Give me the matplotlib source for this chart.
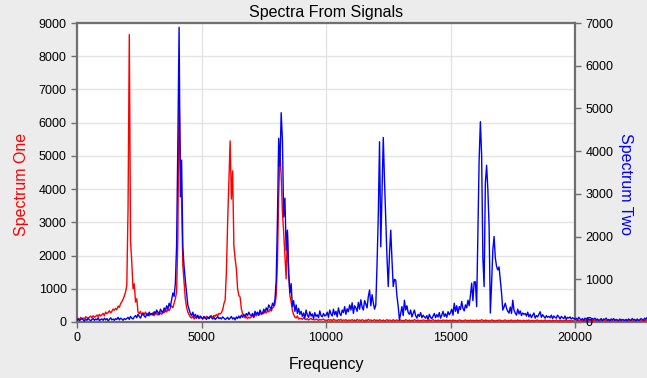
import numpy as np
import matplotlib
matplotlib.use("Agg")
import matplotlib.pyplot as plt

plt.rcParams['font.family'] = ['Liberation Sans', 'DejaVu Sans']

# Частотні біни (крок 50 Гц)
FREQ = np.arange(0, 23000, 50)

# Спектр 1 (ліва вісь), по 20 значень на кожні 1000 Гц
SPECTRUM_ONE = [
    80, 110, 70, 140, 100, 120, 90, 160, 130, 110, 150, 180, 120, 190, 140, 170, 210, 160, 230, 180,
    220, 260, 190, 300, 250, 290, 340, 270, 320, 390, 350, 410, 370, 480, 440, 550, 610, 680, 780, 900,
    1100, 3400, 8650, 2450, 1800, 1000, 1150, 600, 700, 300, 250, 320, 200, 280, 230, 300, 200, 260, 180, 250,
    220, 280, 190, 300, 240, 210, 310, 260, 230, 330, 280, 350, 300, 380, 340, 420, 480, 430, 560, 700,
    900, 2500, 6900, 4900, 3700, 1700, 1200, 700, 450, 300, 220, 150, 120, 180, 90, 140, 110, 160, 100, 130,
    120, 90, 150, 110, 170, 130, 100, 160, 190, 140, 200, 170, 230, 190, 260, 240, 280, 360, 550, 660,
    1500, 3000, 4200, 5450, 3700, 4550, 2300, 1900, 1600, 1000, 800, 750, 400, 250, 180, 120, 160, 100, 150, 120,
    150, 200, 130, 230, 180, 260, 200, 280, 220, 300, 250, 320, 270, 350, 300, 380, 330, 420, 460, 520,
    800, 1800, 3800, 5100, 4400, 3300, 2700, 2000, 1300, 2700, 1500, 800, 600, 350, 220, 150, 120, 180, 90, 110,
    110, 80, 130, 90, 70, 100, 60, 90, 110, 70, 80, 60, 90, 70, 50, 80, 60, 70, 90, 50,
    60, 40, 80, 50, 70, 30, 90, 50, 60, 40, 70, 50, 80, 40, 60, 50, 70, 30, 60, 50,
    50, 70, 40, 60, 30, 80, 50, 60, 40, 70, 50, 30, 60, 40, 80, 50, 60, 40, 50, 70,
    40, 60, 30, 70, 50, 40, 60, 30, 50, 70, 40, 60, 50, 30, 70, 40, 50, 60, 40, 50,
    60, 40, 50, 30, 70, 50, 40, 60, 30, 50, 40, 70, 50, 40, 60, 30, 50, 40, 60, 50,
    40, 50, 30, 60, 40, 50, 70, 40, 50, 30, 60, 40, 50, 30, 60, 50, 40, 60, 30, 50,
    50, 30, 60, 40, 50, 30, 40, 60, 50, 40, 30, 50, 60, 40, 50, 30, 60, 40, 50, 40,
    40, 60, 30, 50, 40, 70, 50, 30, 60, 40, 50, 30, 40, 60, 50, 40, 30, 50, 40, 60,
    50, 40, 30, 50, 60, 40, 30, 50, 40, 60, 30, 40, 50, 30, 60, 40, 50, 30, 40, 50,
    30, 50, 40, 60, 30, 40, 50, 30, 40, 50, 60, 30, 40, 50, 30, 40, 60, 40, 30, 50,
    40, 30, 50, 40, 30, 60, 40, 30, 50, 40, 30, 50, 40, 60, 30, 40, 50, 30, 40, 30,
    40, 30, 50, 30, 40, 50, 30, 40, 30, 50, 40, 30, 50, 40, 30, 40, 50, 30, 40, 30,
    30, 40, 30, 50, 40, 30, 40, 30, 50, 30, 40, 30, 40, 50, 30, 40, 30, 40, 30, 40,
    40, 30, 40, 30, 50, 40, 30, 40, 30, 40, 50, 30, 40, 30, 40, 30, 50, 40, 30, 40,
]

# Спектр 2 (права вісь)
SPECTRUM_TWO = [
    40, 70, 30, 60, 80, 50, 20, 70, 40, 90, 50, 30, 60, 80, 40, 70, 50, 100, 30, 60,
    70, 40, 90, 50, 80, 30, 60, 100, 50, 70, 40, 80, 60, 110, 50, 90, 70, 40, 80, 60,
    80, 110, 60, 130, 90, 70, 120, 150, 100, 180, 130, 90, 160, 200, 140, 110, 190, 150, 230, 170,
    200, 160, 240, 190, 280, 220, 170, 300, 250, 210, 330, 260, 380, 300, 440, 360, 520, 680, 600, 900,
    1800, 4200, 6900, 2930, 3790, 1760, 1300, 980, 700, 400, 300, 200, 150, 230, 120, 180, 100, 160, 90, 140,
    110, 70, 130, 90, 60, 120, 80, 140, 100, 70, 110, 60, 90, 130, 80, 100, 70, 120, 90, 60,
    80, 110, 60, 90, 130, 70, 100, 50, 120, 80, 140, 90, 160, 110, 180, 130, 200, 150, 230, 170,
    140, 200, 120, 250, 180, 230, 160, 280, 210, 190, 300, 240, 330, 270, 400, 350, 300, 440, 380, 520,
    980, 2400, 4300, 3650, 4900, 4250, 2460, 2900, 1680, 2150, 1150, 680, 900, 360, 500, 250, 400, 200, 320, 180,
    250, 130, 210, 90, 280, 160, 110, 240, 140, 190, 80, 220, 130, 170, 100, 260, 150, 120, 200, 140,
    160, 230, 110, 280, 190, 140, 300, 170, 250, 120, 330, 200, 150, 280, 220, 360, 180, 310, 240, 400,
    280, 450, 200, 380, 330, 250, 460, 300, 520, 350, 280, 500, 420, 330, 600, 750, 380, 640, 450, 300,
    400, 1350, 2500, 4220, 1760, 3000, 4320, 3300, 2400, 1500, 830, 1600, 2150, 1450, 830, 1000, 980, 600, 360, 50,
    200, 360, 150, 510, 280, 380, 220, 180, 280, 120, 200, 280, 150, 90, 180, 130, 220, 100, 160, 120,
    90, 150, 60, 180, 110, 80, 140, 200, 100, 170, 120, 220, 90, 160, 250, 130, 190, 110, 240, 170,
    220, 300, 160, 440, 250, 380, 200, 360, 290, 480, 320, 260, 400, 330, 510, 380, 620, 910, 500, 940,
    940, 360, 2080, 3800, 4690, 3900, 1500, 830, 3250, 3670, 3100, 2230, 210, 900, 1680, 2000, 1500, 1300, 1220, 1290,
    980, 680, 280, 350, 440, 320, 250, 210, 350, 200, 510, 280, 210, 160, 300, 190, 260, 150, 210, 180,
    200, 140, 230, 120, 180, 100, 160, 210, 90, 150, 120, 180, 240, 110, 170, 130, 90, 150, 110, 130,
    100, 160, 80, 140, 110, 90, 160, 120, 70, 130, 100, 80, 140, 60, 110, 90, 120, 70, 100, 80,
    60, 90, 40, 110, 70, 50, 80, 30, 90, 60, 100, 50, 70, 40, 80, 60, 90, 50, 70, 40,
    50, 80, 30, 70, 60, 90, 40, 60, 30, 70, 50, 80, 40, 60, 50, 30, 70, 40, 60, 50,
    40, 60, 30, 70, 50, 40, 80, 50, 60, 30, 70, 40, 50, 80, 60, 40, 90, 60, 110, 70,
]

LEFT_TICKS = list(range(0, 10000, 1000))
RIGHT_TICKS = list(range(0, 8000, 1000))
X_TICKS = [0, 5000, 10000, 15000, 20000]

X_END = 20000          # де стоїть права вісь
X_MAX = 20000 * 570 / 498
BG = "#ececec"
SPINE = "#6f6f6f"
GRID = "#e4e4e4"

fig = plt.figure(figsize=(6.47, 3.78), dpi=100, facecolor=BG)
ax = fig.add_axes([77 / 647, 1 - 322 / 378, 570 / 647, 299 / 378])
ax.set_facecolor(BG)
ax.axvspan(0, X_END, color="white", zorder=0)

ax.set_xlim(0, X_MAX)
ax.set_ylim(0, 9000)

# сітка тільки в межах 0..20000
ax.hlines(LEFT_TICKS[1:], 0, X_END, color=GRID, lw=1, zorder=1)
ax.vlines(X_TICKS[1:-1], 0, 9000, color=GRID, lw=1, zorder=1)

ax.plot(FREQ, SPECTRUM_ONE, color="#ff0000", lw=1.0, zorder=3)

ax2 = ax.twinx()
ax2.set_ylim(0, 7000)
ax2.plot(FREQ, SPECTRUM_TWO, color="#0000ff", lw=1.0, zorder=3)

for a in (ax, ax2):
    a.spines["top"].set_visible(False)
ax.spines["right"].set_visible(False)
ax2.spines["left"].set_visible(False)
ax2.spines["bottom"].set_visible(False)
ax2.spines["right"].set_position(("data", X_END))

for sp in (ax.spines["left"], ax.spines["bottom"], ax2.spines["right"]):
    sp.set_color(SPINE)
    sp.set_linewidth(1.6)
ax.plot([0, X_END], [9000, 9000], color=SPINE, lw=1.6, clip_on=False, zorder=5)

ax.set_yticks(LEFT_TICKS)
ax.set_xticks(X_TICKS)
ax2.set_yticks(RIGHT_TICKS)
for a in (ax, ax2):
    a.tick_params(colors="black", labelsize=9, length=4, width=1, color=SPINE)

fig.text(326 / 647, 1 - 12 / 378, "Spectra From Signals", ha="center", va="center", fontsize=11.5)
fig.text(326 / 647, 1 - 364 / 378, "Frequency", ha="center", va="center", fontsize=11.5)
fig.text(22 / 647, 1 - 184 / 378, "Spectrum One", ha="center", va="center",
         rotation=90, color="#ff0000", fontsize=11.5)
fig.text(626 / 647, 1 - 184 / 378, "Spectrum Two", ha="center", va="center",
         rotation=270, color="#0000ff", fontsize=11.5)

fig.savefig("out.png", dpi=100, facecolor=BG)
